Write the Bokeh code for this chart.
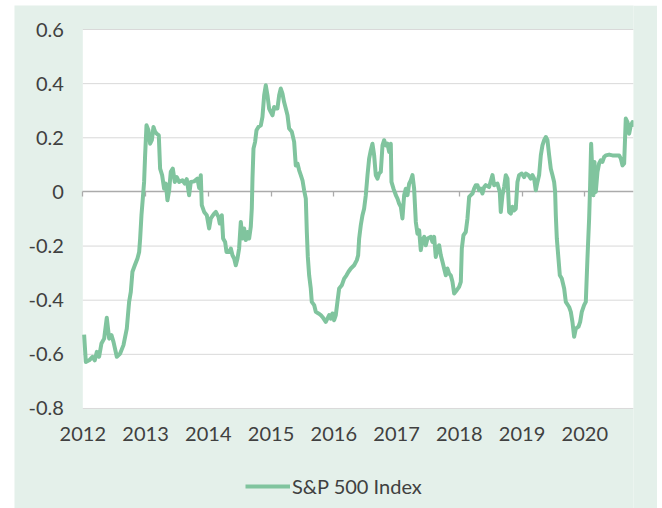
from bokeh.plotting import figure
from bokeh.models import (FixedTicker, Legend, LegendItem, LinearAxis, BoxAnnotation,
                          CustomJSTickFormatter, NumeralTickFormatter)
from bokeh.embed import file_html
from bokeh.resources import INLINE

# Decimal year of each observation and the S&P 500 Index series value
years = [
    2012.021, 2012.048, 2012.101, 2012.154, 2012.191, 2012.223, 2012.260, 2012.297, 2012.340, 2012.382,
    2012.420, 2012.457, 2012.489, 2012.542, 2012.595, 2012.648, 2012.701, 2012.738, 2012.765, 2012.791,
    2012.829, 2012.871, 2012.898, 2012.914, 2012.935, 2012.956, 2012.977, 2012.993, 2013.015, 2013.046,
    2013.073, 2013.100, 2013.126, 2013.153, 2013.179, 2013.211, 2013.232, 2013.264, 2013.296, 2013.323,
    2013.349, 2013.376, 2013.402, 2013.434, 2013.466, 2013.498, 2013.535, 2013.588, 2013.625, 2013.657,
    2013.694, 2013.721, 2013.774, 2013.827, 2013.854, 2013.880, 2013.896, 2013.934, 2013.976, 2014.013,
    2014.040, 2014.093, 2014.120, 2014.162, 2014.183, 2014.215, 2014.236, 2014.268, 2014.290, 2014.332,
    2014.359, 2014.385, 2014.412, 2014.438, 2014.465, 2014.491, 2014.518, 2014.544, 2014.571, 2014.598,
    2014.624, 2014.651, 2014.677, 2014.693, 2014.704, 2014.720, 2014.746, 2014.768, 2014.799, 2014.837,
    2014.863, 2014.890, 2014.916, 2014.943, 2014.969, 2014.996, 2015.023, 2015.049, 2015.076, 2015.102,
    2015.129, 2015.155, 2015.182, 2015.208, 2015.235, 2015.262, 2015.288, 2015.331, 2015.368, 2015.394,
    2015.421, 2015.448, 2015.474, 2015.501, 2015.527, 2015.554, 2015.570, 2015.586, 2015.607, 2015.633,
    2015.649, 2015.687, 2015.713, 2015.756, 2015.793, 2015.819, 2015.872, 2015.926, 2015.952, 2015.979,
    2016.005, 2016.032, 2016.058, 2016.085, 2016.127, 2016.165, 2016.202, 2016.234, 2016.271, 2016.324,
    2016.367, 2016.388, 2016.404, 2016.430, 2016.457, 2016.483, 2016.510, 2016.537, 2016.563, 2016.590,
    2016.616, 2016.643, 2016.669, 2016.696, 2016.722, 2016.749, 2016.776, 2016.802, 2016.829, 2016.855,
    2016.882, 2016.908, 2016.919, 2016.951, 2016.988, 2017.015, 2017.041, 2017.068, 2017.094, 2017.121,
    2017.147, 2017.174, 2017.201, 2017.227, 2017.254, 2017.280, 2017.307, 2017.333, 2017.360, 2017.386,
    2017.413, 2017.440, 2017.466, 2017.493, 2017.546, 2017.572, 2017.599, 2017.625, 2017.652, 2017.679,
    2017.705, 2017.732, 2017.758, 2017.785, 2017.811, 2017.838, 2017.864, 2017.891, 2017.918, 2017.960,
    2017.997, 2018.024, 2018.040, 2018.066, 2018.103, 2018.130, 2018.157, 2018.183, 2018.210, 2018.236,
    2018.263, 2018.289, 2018.316, 2018.343, 2018.369, 2018.396, 2018.422, 2018.475, 2018.529, 2018.555,
    2018.608, 2018.645, 2018.661, 2018.688, 2018.714, 2018.741, 2018.768, 2018.794, 2018.821, 2018.847,
    2018.874, 2018.900, 2018.927, 2018.953, 2018.996, 2019.033, 2019.060, 2019.102, 2019.139, 2019.166,
    2019.193, 2019.219, 2019.246, 2019.272, 2019.299, 2019.325, 2019.352, 2019.379, 2019.405, 2019.432,
    2019.458, 2019.485, 2019.511, 2019.527, 2019.538, 2019.554, 2019.580, 2019.602, 2019.633, 2019.671,
    2019.697, 2019.750, 2019.777, 2019.803, 2019.830, 2019.857, 2019.899, 2019.926, 2019.952, 2019.989,
    2020.016, 2020.042, 2020.069, 2020.085, 2020.101, 2020.122, 2020.138, 2020.154, 2020.175, 2020.202,
    2020.228, 2020.255, 2020.281, 2020.308, 2020.335, 2020.388, 2020.441, 2020.494, 2020.547, 2020.574,
    2020.600, 2020.627, 2020.653, 2020.680, 2020.707, 2020.733, 2020.760, 2020.776,
]

sp500 = [
    -0.527, -0.628, -0.622, -0.609, -0.622, -0.591, -0.609, -0.560, -0.542, -0.465,
    -0.542, -0.529, -0.554, -0.609, -0.597, -0.566, -0.505, -0.406, -0.369, -0.295,
    -0.271, -0.246, -0.222, -0.172, -0.086, -0.025, 0.037, 0.135, 0.246, 0.228,
    0.178, 0.191, 0.240, 0.222, 0.215, 0.209, 0.086, 0.062, 0.012, 0.031,
    -0.031, 0.006, 0.074, 0.086, 0.037, 0.055, 0.037, 0.043, 0.031, 0.047,
    -0.012, 0.037, 0.039, 0.049, 0.015, 0.062, -0.049, -0.074, -0.086, -0.135,
    -0.098, -0.080, -0.074, -0.092, -0.117, -0.086, -0.172, -0.185, -0.222, -0.222,
    -0.209, -0.234, -0.246, -0.271, -0.246, -0.209, -0.111, -0.172, -0.135, -0.178,
    -0.148, -0.172, -0.129, -0.062, 0.049, 0.160, 0.185, 0.228, 0.240, 0.246,
    0.277, 0.357, 0.394, 0.357, 0.308, 0.295, 0.283, 0.314, 0.308, 0.308,
    0.357, 0.382, 0.363, 0.332, 0.308, 0.283, 0.234, 0.222, 0.185, 0.098,
    0.105, 0.080, 0.062, 0.043, 0.006, -0.025, -0.148, -0.240, -0.308, -0.357,
    -0.406, -0.418, -0.443, -0.449, -0.455, -0.462, -0.480, -0.455, -0.468, -0.449,
    -0.474, -0.455, -0.406, -0.357, -0.345, -0.320, -0.308, -0.295, -0.283, -0.271,
    -0.252, -0.234, -0.172, -0.123, -0.086, -0.062, -0.012, 0.062, 0.123, 0.154,
    0.178, 0.135, 0.062, 0.049, 0.068, 0.074, 0.172, 0.191, 0.172, 0.178,
    0.148, 0.178, 0.037, 0.012, -0.012, -0.025, -0.043, -0.055, -0.098, -0.012,
    0.012, -0.012, 0.031, 0.043, 0.062, 0.012, -0.111, -0.154, -0.142, -0.215,
    -0.178, -0.166, -0.197, -0.172, -0.166, -0.185, -0.166, -0.240, -0.209, -0.197,
    -0.234, -0.258, -0.283, -0.308, -0.283, -0.302, -0.308, -0.332, -0.375, -0.363,
    -0.351, -0.332, -0.209, -0.160, -0.148, -0.098, -0.018, -0.012, -0.006, 0.012,
    0.025, 0.025, 0.006, 0.012, -0.006, 0.018, 0.025, 0.018, 0.062, 0.025,
    0.031, 0.000, -0.074, -0.012, 0.018, 0.062, 0.049, -0.074, -0.080, -0.055,
    -0.068, -0.062, 0.037, 0.062, 0.068, 0.055, 0.068, 0.062, 0.049, 0.062,
    0.049, 0.006, 0.037, 0.062, 0.135, 0.172, 0.191, 0.203, 0.191, 0.135,
    0.086, 0.062, 0.037, 0.000, -0.086, -0.172, -0.246, -0.308, -0.320, -0.357,
    -0.406, -0.425, -0.443, -0.480, -0.535, -0.505, -0.498, -0.480, -0.443, -0.418,
    -0.406, -0.246, -0.098, 0.025, 0.178, 0.062, -0.012, 0.111, 0.000, 0.074,
    0.105, 0.117, 0.111, 0.129, 0.135, 0.138, 0.135, 0.135, 0.135, 0.123,
    0.098, 0.105, 0.271, 0.258, 0.215, 0.246, 0.258, 0.240,
]

year_ticks = [2012, 2013, 2014, 2015, 2016, 2017, 2018, 2019, 2020]
value_ticks = [-0.8, -0.6, -0.4, -0.2, 0, 0.2, 0.4, 0.6]
grid_ticks = [-0.8, -0.6, -0.4, -0.2, 0.2, 0.4, 0.6]
y_min, y_max = -0.8, 0.6
x_min, x_max = 2012, 2020.776
series_name = "S&P 500 Index"

BG = "#E4F0EA"
LINE = "#80C49E"
TEXT = "#404040"
AXIS = "#ABABAB"
GRID = "#D9D9D9"
FONT = "Lato"
FS = "20px"

# The frame fills the card (except a right margin) so that the legend and all
# axis labels sit inside it; the white plot area spans x_min..x_max, y_min..y_max.
p = figure(width=643, height=503, output_backend="svg", toolbar_location=None,
           x_range=(2010.9115, x_max), y_range=(-1.1695, 0.6887),
           min_border_left=0, min_border_right=24, min_border_top=0,
           min_border_bottom=0, x_axis_type=None, y_axis_type=None)
p.margin = (5, 0, 0, 14)
p.background_fill_color = BG
p.border_fill_color = BG
p.outline_line_color = None
p.grid.visible = False

plot_area = BoxAnnotation(left=x_min, right=x_max, bottom=y_min, top=y_max,
                          fill_color="white", fill_alpha=1, line_color=None, level="image")
p.add_layout(plot_area)

# horizontal gridlines across the plot area
p.segment(x0=[x_min] * len(grid_ticks), x1=[x_max] * len(grid_ticks),
          y0=grid_ticks, y1=grid_ticks, line_color=GRID, line_width=1)

# y axis labels
yax = LinearAxis(ticker=FixedTicker(ticks=value_ticks), fixed_location=x_min,
                 formatter=CustomJSTickFormatter(code="return tick == 0 ? '0' : tick.toFixed(1);"))
yax.axis_line_color = None
yax.major_tick_line_color = None
yax.major_tick_in = 0
yax.major_tick_out = 0
yax.minor_tick_line_color = None
yax.major_label_standoff = 19
yax.major_label_text_font = FONT
yax.major_label_text_font_size = FS
yax.major_label_text_color = TEXT
p.add_layout(yax, "left")

# year labels under the plot area
xlab = LinearAxis(ticker=FixedTicker(ticks=year_ticks),
                  formatter=NumeralTickFormatter(format="0"), fixed_location=y_min)
xlab.axis_line_color = None
xlab.major_tick_line_color = None
xlab.major_tick_out = 0
xlab.major_tick_in = 0
xlab.minor_tick_line_color = None
xlab.major_label_standoff = 19
xlab.major_label_text_font = FONT
xlab.major_label_text_font_size = FS
xlab.major_label_text_color = TEXT
p.add_layout(xlab, "below")

# zero line with tick marks
xzero = LinearAxis(ticker=FixedTicker(ticks=year_ticks), fixed_location=0,
                   bounds=(x_min, x_max))
xzero.axis_line_color = AXIS
xzero.axis_line_width = 1.3
xzero.major_tick_line_color = AXIS
xzero.major_tick_line_width = 1.3
xzero.major_tick_in = 0
xzero.major_tick_out = 5
xzero.minor_tick_line_color = None
xzero.major_label_text_color = None
xzero.major_label_text_font_size = "0px"
xzero.level = "underlay"
p.add_layout(xzero, "below")

r = p.line(years, sp500, line_color=LINE, line_width=4, line_join="round")

legend = Legend(items=[LegendItem(label=series_name, renderers=[r])],
                location=(231, 10), orientation="horizontal",
                glyph_width=45, glyph_height=24, label_height=24, label_standoff=2,
                padding=0, margin=0, spacing=0,
                background_fill_alpha=0, border_line_color=None,
                label_text_font=FONT, label_text_font_size=FS,
                label_text_color=TEXT)
p.add_layout(legend, "center")

open("out.html", "w").write(file_html(p, INLINE))
